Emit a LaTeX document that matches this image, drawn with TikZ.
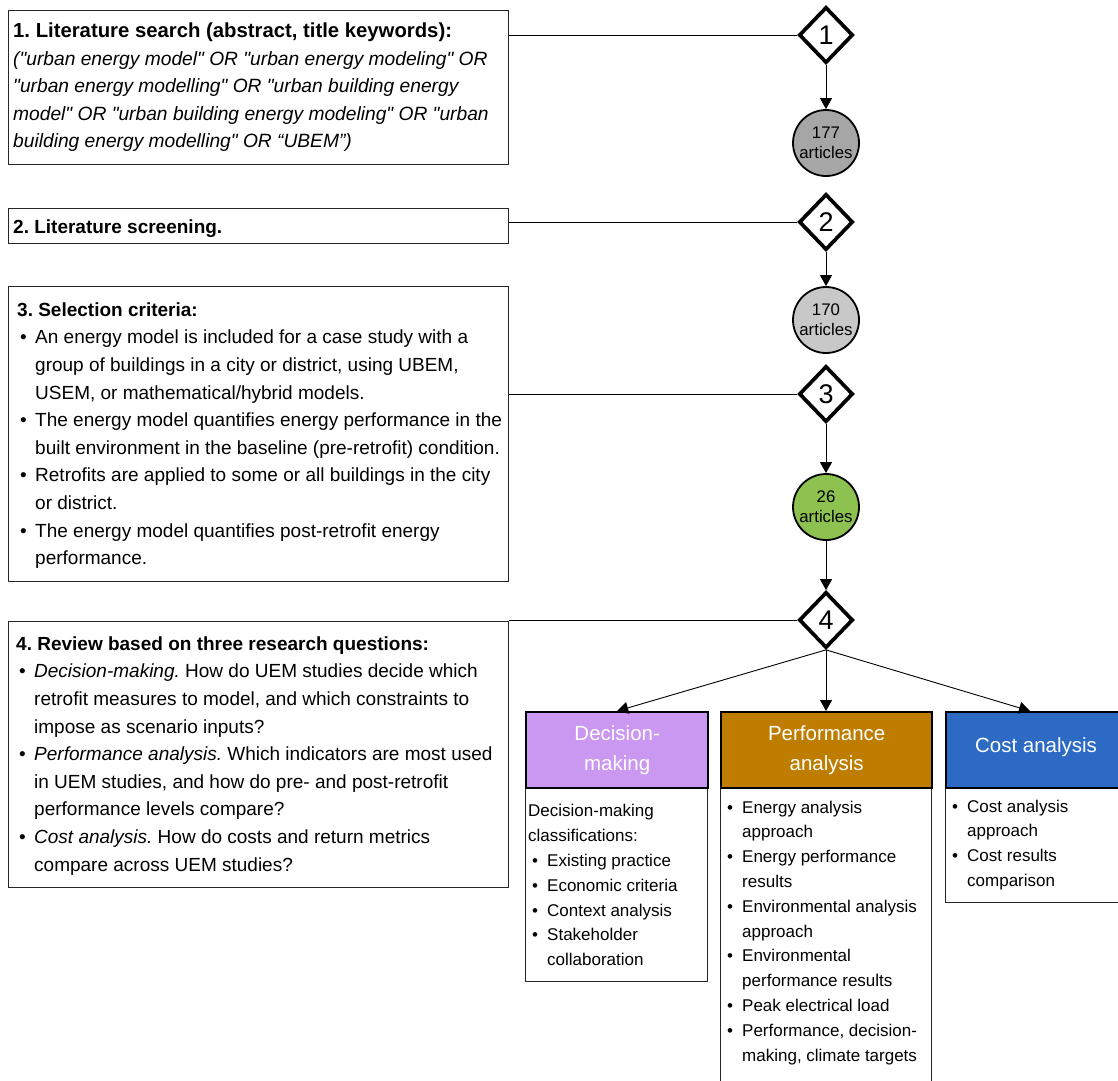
\documentclass[tikz,border=0pt]{standalone}
\usepackage{fontspec}
\setmainfont{Liberation Sans}[Ligatures=TeXOff]
\usetikzlibrary{shapes.geometric,arrows.meta}
\definecolor{dmcol}{RGB}{202,152,240}
\definecolor{pacol}{RGB}{191,125,0}
\definecolor{cacol}{RGB}{44,106,196}
\definecolor{g1}{RGB}{166,166,166}
\definecolor{g2}{RGB}{200,200,200}
\definecolor{gr}{RGB}{141,193,80}
\newcommand{\bitem}[1]{\hspace*{3pt}\makebox[15pt][l]{•}#1}
\newcommand{\bcont}[1]{\hspace*{18pt}#1}
\newcommand{\sitem}[1]{\hspace*{2pt}\makebox[15pt][l]{•}#1}
\newcommand{\scont}[1]{\hspace*{17pt}#1}
\frenchspacing
\begin{document}
\begin{tikzpicture}[x=1pt,y=-1pt,
  box/.style={draw=black!85, line width=1.3pt, inner sep=0pt, anchor=north west},
  hdr/.style={draw=black, line width=2.4pt, inner sep=0pt, anchor=north west, text=white, align=center, font=\fontsize{20.5}{30}\selectfont},
  txt/.style={inner sep=0pt, anchor=north west, align=left, font=\frenchspacing\fontsize{19}{27.6}\selectfont},
  stxt/.style={inner sep=0pt, anchor=north west, align=left, font=\fontsize{17}{24.8}\selectfont},
  dia/.style={diamond, draw=black, line width=3.7pt, fill=white, minimum width=54pt, minimum height=56pt, inner sep=0pt, font=\fontsize{27}{30}\selectfont},
  circ/.style={circle, draw=black, line width=1.8pt, minimum size=66pt, inner sep=0pt, align=center, font=\fontsize{16.8}{20}\selectfont},
  conn/.style={draw=black, line width=0.9pt},
  arr/.style={conn, -{Triangle[length=11pt,width=12pt]}}
]
\useasboundingbox (0,0) rectangle (1118,1080);
\clip (0,0) rectangle (1118,1080);
\fill[white] (0,0) rectangle (1118,1080);

% left boxes
\node[box, minimum width=500pt, minimum height=154pt] (b1) at (8,10) {};
\node[box, minimum width=500pt, minimum height=35pt] (b2) at (8,208) {};
\node[box, minimum width=500pt, minimum height=295pt] (b3) at (8,285.7) {};
\node[box, minimum width=500pt, minimum height=266.5pt] (b4) at (8,620.5) {};

\node[txt] (t1) at (13,18) {\strut{\fontsize{20.3}{27.6}\selectfont\textbf{1. Literature search (abstract, title keywords):}}\\
{\fontsize{19.2}{27.6}\selectfont\itshape ("urban energy model" OR "urban energy modeling" OR}\\
{\fontsize{19.2}{27.6}\selectfont\itshape "urban energy modelling" OR "urban building energy}\\
{\fontsize{19.2}{27.6}\selectfont\itshape model" OR "urban building energy modeling" OR "urban}\\
{\fontsize{19.2}{27.6}\selectfont\itshape building energy modelling" OR “UBEM”)}};

\node[txt] (t2) at (13,213.7) {\strut\textbf{2. Literature screening.}};

\node[txt] (t3) at (17,296.7) {\strut\textbf{3. Selection criteria:}\\
\bitem{An energy model is included for a case study with a}\\
\bcont{group of buildings in a city or district, using UBEM,}\\
\bcont{USEM, or mathematical/hybrid models.}\\
\bitem{The energy model quantifies energy performance in the}\\
\bcont{built environment in the baseline (pre-retrofit) condition.}\\
\bitem{Retrofits are applied to some or all buildings in the city}\\
\bcont{or district.}\\
\bitem{The energy model quantifies post-retrofit energy}\\
\bcont{performance.}};

\node[txt] (t4) at (16,630.7) {\strut\textbf{4. Review based on three research questions:}\\
\bitem{\textit{Decision-making.} How do UEM studies decide which}\\
\bcont{retrofit measures to model, and which constraints to}\\
\bcont{impose as scenario inputs?}\\
\bitem{\textit{Performance analysis.} Which indicators are most used}\\
\bcont{in UEM studies, and how do pre- and post-retrofit}\\
\bcont{performance levels compare?}\\
\bitem{\textit{Cost analysis.} How do costs and return metrics}\\
\bcont{compare across UEM studies?}};

% flow column
\node[dia] (d1) at (826,35) {1};
\node[circ, fill=g1] (c1) at (826,143) {177\\articles};
\node[dia] (d2) at (826,222) {2};
\node[circ, fill=g2] (c2) at (826,320) {170\\articles};
\node[dia] (d3) at (826,394) {3};
\node[circ, fill=gr] (c3) at (826,507) {26\\articles};
\node[dia] (d4) at (826,620) {4};

% bottom boxes
\node[box, minimum width=182pt, minimum height=194pt] (dmb) at (525,787) {};
\node[box, minimum width=211pt, minimum height=300pt] (pab) at (720,787) {};
\node[box, minimum width=180pt, minimum height=115pt] (cab) at (945,787) {};
\node[hdr, fill=dmcol, minimum width=182pt, minimum height=76pt] (dmh) at (525,711) {Decision-\\making};
\node[hdr, fill=pacol, minimum width=211pt, minimum height=76pt] (pah) at (720,711) {Performance\\analysis};
\node[hdr, fill=cacol, minimum width=180pt, minimum height=76pt] (cah) at (945,711) {};
\node[inner sep=0pt, text=white, font=\fontsize{20.5}{30}\selectfont] (cat) at (1036,747) {Cost analysis};
\coordinate (catip) at (1030,711);
\coordinate (patip) at (826,711);

\node[stxt] (dmt) at (528,799.3) {\strut Decision-making\\
classifications:\\
\hspace*{4pt}\makebox[15pt][l]{•}Existing practice\\
\hspace*{4pt}\makebox[15pt][l]{•}Economic criteria\\
\hspace*{4pt}\makebox[15pt][l]{•}Context analysis\\
\hspace*{4pt}\makebox[15pt][l]{•}Stakeholder\\
\hspace*{19pt}collaboration};

\node[stxt] (pat) at (725,795.6) {\strut\sitem{Energy analysis}\\
\scont{approach}\\
\sitem{Energy performance}\\
\scont{results}\\
\sitem{Environmental analysis}\\
\scont{approach}\\
\sitem{Environmental}\\
\scont{performance results}\\
\sitem{Peak electrical load}\\
\sitem{Performance, decision-}\\
\scont{making, climate targets}};

\node[stxt] (cat2) at (950,794.6) {\strut\sitem{Cost analysis}\\
\scont{approach}\\
\sitem{Cost results}\\
\scont{comparison}};

% connectors
\draw[conn] (d1.west -| b1.east) -- (d1.west);
\draw[conn] (d2.west -| b2.east) -- (d2.west);
\draw[conn] (d3.west -| b3.east) -- (d3.west);
\draw[conn] (d4.west -| b4.east) -- (d4.west);
\draw[arr] (d1) -- (c1);
\draw[arr] (d2) -- (c2);
\draw[arr] (d3) -- (c3);
\draw[arr] (c3) -- (d4);
\draw[arr] (d4.south) -- (dmh.north);
\draw[arr] (d4.south) -- (patip);
\draw[arr] (d4.south) -- (catip);
\end{tikzpicture}
\end{document}
